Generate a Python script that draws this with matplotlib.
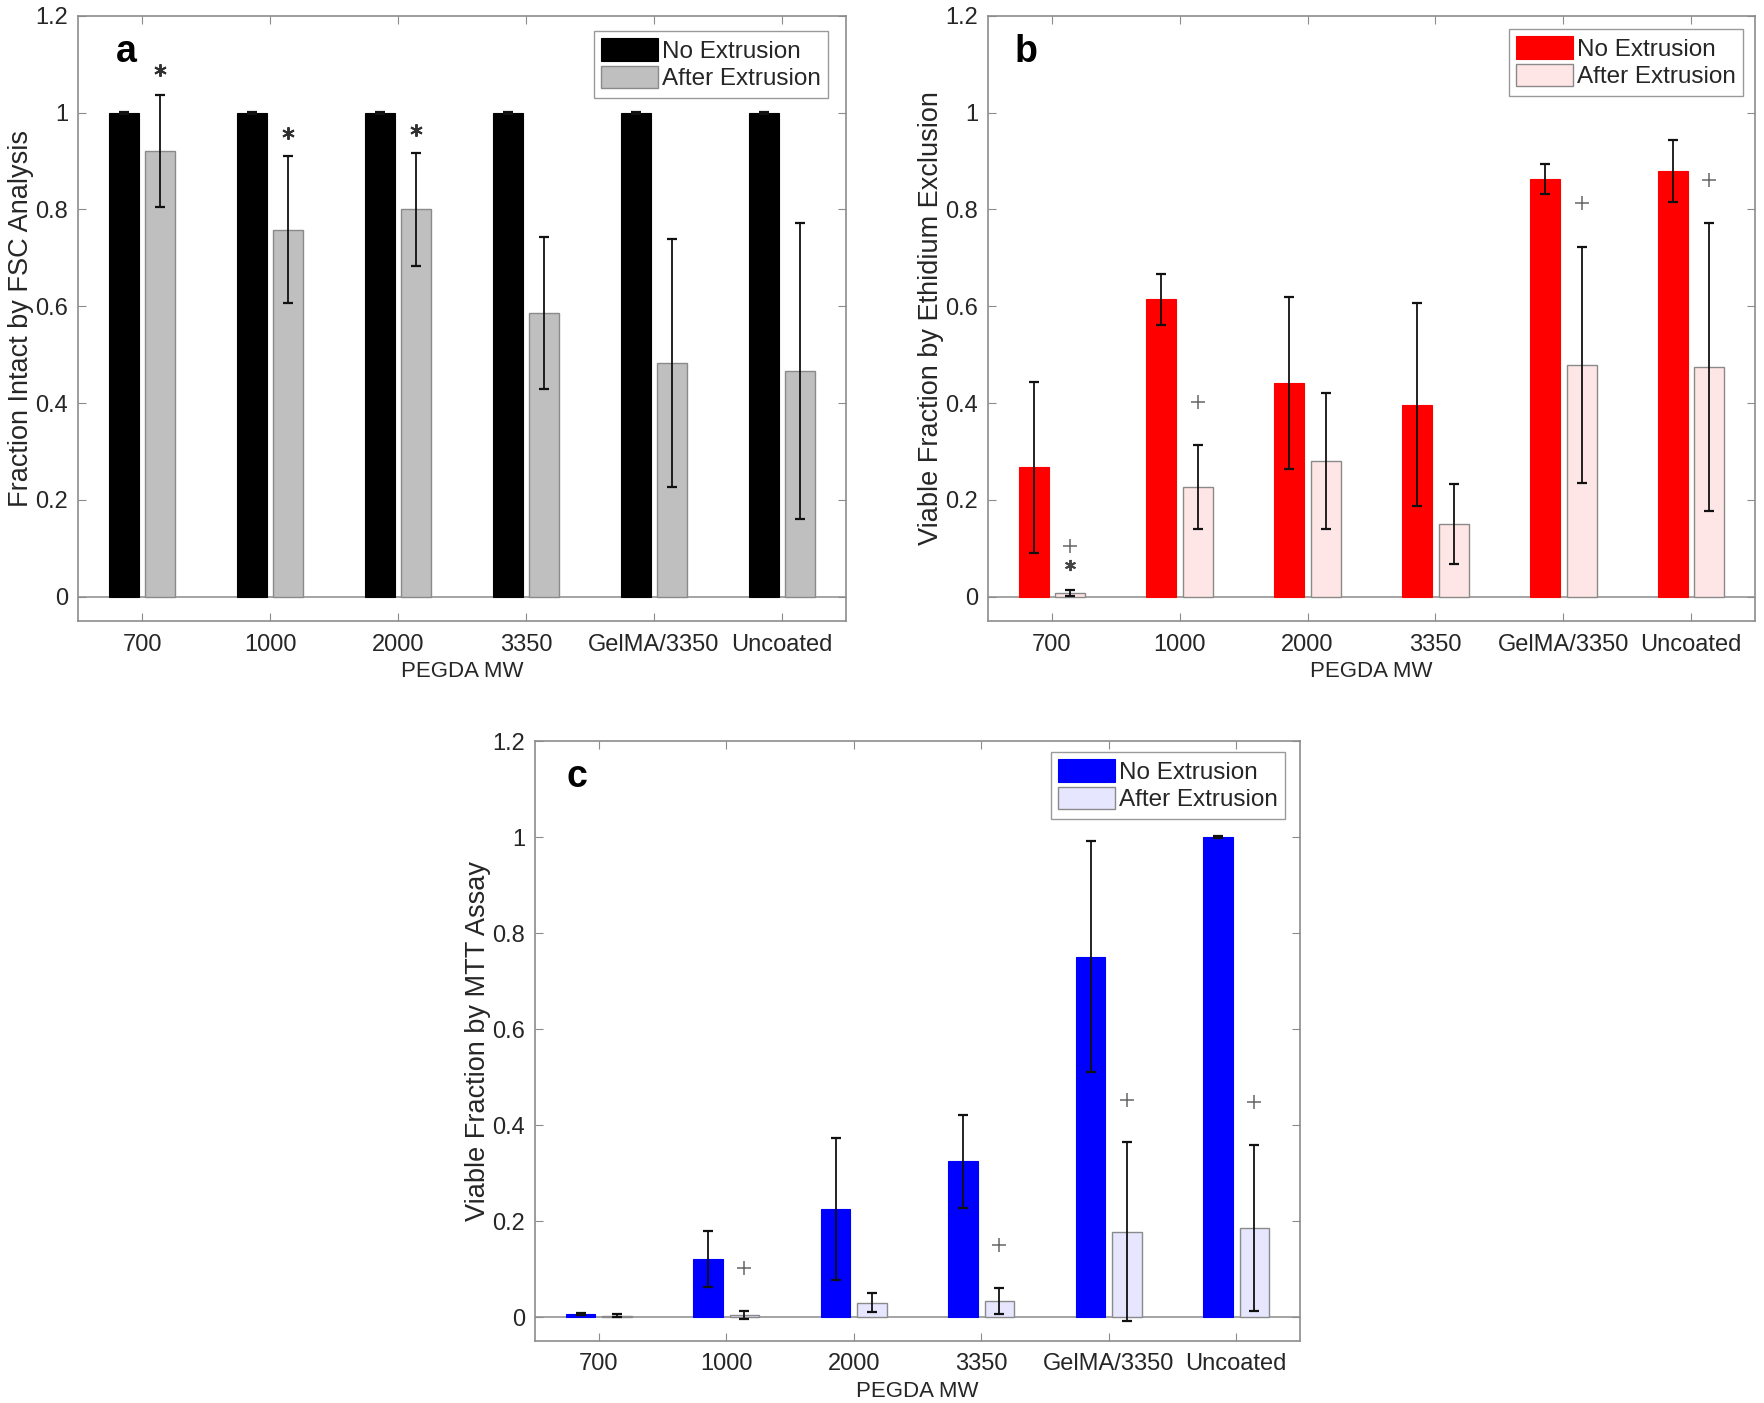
import matplotlib
matplotlib.use('Agg')
import matplotlib.pyplot as plt
import numpy as np

nan = np.nan

# ---------------- data ----------------
categories = ['700', '1000', '2000', '3350', 'GelMA/3350', 'Uncoated']
series_labels = ['No Extrusion', 'After Extrusion']
y_ticks = [0, 0.2, 0.4, 0.6, 0.8, 1.0, 1.2]
y_tick_labels = ['0', '0.2', '0.4', '0.6', '0.8', '1', '1.2']

# panel a: Fraction intact by FSC
a_no = [1.0, 1.0, 1.0, 1.0, 1.0, 1.0]
a_no_err = [0.002, 0.002, 0.002, 0.002, 0.002, 0.002]
a_after = [0.920, 0.758, 0.800, 0.587, 0.482, 0.466]
a_after_err = [0.116, 0.152, 0.117, 0.157, 0.256, 0.306]
a_star_y = [1.087, 0.958, 0.964, nan, nan, nan]

# panel b: Viable fraction by ethidium exclusion
b_no = [0.267, 0.614, 0.442, 0.397, 0.863, 0.879]
b_no_err = [0.176, 0.053, 0.178, 0.210, 0.031, 0.064]
b_after = [0.007, 0.227, 0.280, 0.150, 0.479, 0.474]
b_after_err = [0.006, 0.086, 0.140, 0.083, 0.243, 0.297]
b_plus_y = [0.105, 0.402, nan, nan, 0.813, 0.861]
b_star_y = [0.065, nan, nan, nan, nan, nan]

# panel c: Viable fraction by MTT assay
c_no = [0.006, 0.121, 0.225, 0.324, 0.751, 1.0]
c_no_err = [0.002, 0.059, 0.147, 0.097, 0.241, 0.002]
c_after = [0.003, 0.004, 0.030, 0.033, 0.178, 0.185]
c_after_err = [0.003, 0.008, 0.019, 0.027, 0.187, 0.173]
c_plus_y = [nan, 0.102, nan, 0.149, 0.453, 0.448]

# ---------------- style ----------------
plt.rcParams['font.family'] = ['Liberation Sans', 'DejaVu Sans']
W, H = 1764, 1403
fig = plt.figure(figsize=(W / 100, H / 100), dpi=100)

SPINE = '#8c8c8c'
TXT = '#262626'
BAR_W = 0.235
OFF = 0.143


def px_axes(l, t, r, b):
    return fig.add_axes([l / W, 1 - b / H, (r - l) / W, (b - t) / H])


def panel(ax, no, no_err, after, after_err, c_dark, c_light, ylabel, letter,
          letter_x, legend_anchor, dark_edge=None):
    x = np.arange(1, len(categories) + 1)
    ax.axhline(0, color=SPINE, lw=1.1, zorder=1)
    ax.bar(x - OFF, no, width=BAR_W, color=c_dark,
           edgecolor=dark_edge if dark_edge else c_dark, linewidth=0.8,
           zorder=2, label=series_labels[0])
    ax.bar(x + OFF, after, width=BAR_W, color=c_light, edgecolor='#8a8a8a',
           linewidth=1.0, zorder=2, label=series_labels[1])
    ax.errorbar(x - OFF, no, yerr=no_err, fmt='none', ecolor='#111111',
                elinewidth=1.3, capsize=3.5, capthick=1.6, zorder=3)
    ax.errorbar(x + OFF, after, yerr=after_err, fmt='none', ecolor='#111111',
                elinewidth=1.3, capsize=3.5, capthick=1.6, zorder=3)
    ax.set_xlim(0.5, 6.5)
    ax.set_ylim(-0.05, 1.2)
    ax.set_xticks(x)
    ax.set_xticklabels(categories)
    ax.set_yticks(y_ticks)
    ax.set_yticklabels(y_tick_labels)
    ax.tick_params(direction='in', length=6, width=0.8, color=SPINE,
                   labelsize=17, labelcolor=TXT, top=True, right=True)
    ax.tick_params(axis='x', pad=9)
    ax.tick_params(axis='y', pad=7)
    for s in ax.spines.values():
        s.set_color(SPINE)
        s.set_linewidth(1.2)
    ax.set_xlabel('PEGDA MW', fontsize=16, color=TXT, va='center')
    ax.xaxis.set_label_coords(0.5, -0.084)
    ax.set_ylabel(ylabel, fontsize=19.5, color=TXT, va='center')
    ax.yaxis.set_label_coords(-0.074, 0.5)
    ax.text(letter_x, 1.125, letter, fontsize=27, fontweight='bold',
            ha='center', va='center', color='black', zorder=5)
    leg = ax.legend(loc='upper right', bbox_to_anchor=legend_anchor,
                    bbox_transform=fig.transFigure, fontsize=17.5,
                    frameon=True, fancybox=False, framealpha=1,
                    edgecolor='#9a9a9a', handlelength=2.35, handleheight=1.05,
                    handletextpad=0.15, borderpad=0.3, labelspacing=0.12,
                    borderaxespad=0)
    leg.get_frame().set_linewidth(1.0)
    for t in leg.get_texts():
        t.set_color(TXT)
    return x


# panel a
axa = px_axes(78, 15.7, 846, 621)
x = panel(axa, a_no, a_no_err, a_after, a_after_err, '#000000', '#bfbfbf',
          'Fraction Intact by FSC Analysis', 'a', 0.875,
          (828 / W, 1 - 31 / H))
axa.plot(x + OFF, a_star_y, linestyle='none', marker=(6, 2, 0),
         markersize=9, markeredgewidth=1.4, color='#303030', zorder=4)

# panel b
axb = px_axes(988, 15.7, 1755, 621)
x = panel(axb, b_no, b_no_err, b_after, b_after_err, '#ff0000', '#ffe6e6',
          'Viable Fraction by Ethidium Exclusion', 'b', 0.80,
          (1743 / W, 1 - 29 / H))
axb.plot(x + OFF, b_plus_y, linestyle='none', marker='+', markersize=10,
         markeredgewidth=1.1, color='#666666', zorder=4)
axb.plot(x + OFF, b_star_y, linestyle='none', marker=(6, 2, 0),
         markersize=8, markeredgewidth=1.4, color='#444444', zorder=4)

# panel c
axc = px_axes(535, 741, 1300, 1341)
x = panel(axc, c_no, c_no_err, c_after, c_after_err, '#0000ff', '#e6e6ff',
          'Viable Fraction by MTT Assay', 'c', 0.83,
          (1285 / W, 1 - 752 / H))
axc.plot(x + OFF, c_plus_y, linestyle='none', marker='+', markersize=10,
         markeredgewidth=1.1, color='#666666', zorder=4)

fig.savefig('out.png', dpi=100, facecolor='white')
